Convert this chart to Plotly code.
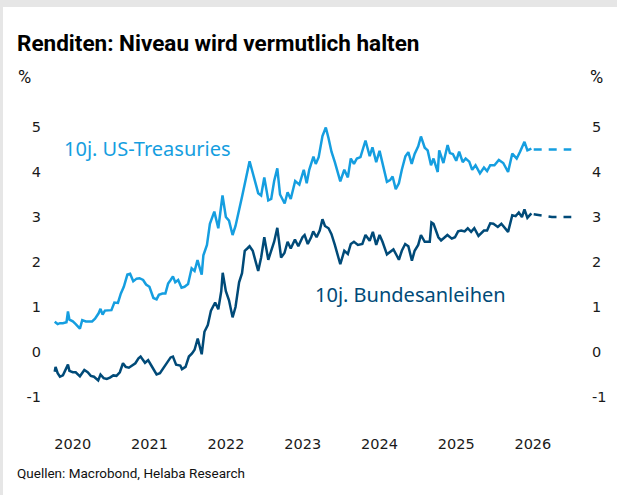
import plotly.graph_objects as go

# ---------------- data ----------------
us_dates = [
    "2020-04-06","2020-04-20","2020-05-01","2020-05-15","2020-06-01","2020-06-08","2020-06-15",
    "2020-07-01","2020-07-15","2020-08-04","2020-08-15","2020-09-01","2020-09-15","2020-10-01",
    "2020-10-15","2020-11-01","2020-11-10","2020-11-20","2020-12-01","2020-12-15","2021-01-01",
    "2021-01-15","2021-02-01","2021-02-15","2021-03-01","2021-03-18","2021-03-31","2021-04-15",
    "2021-05-01","2021-05-15","2021-06-01","2021-06-15","2021-07-01","2021-07-20","2021-08-04",
    "2021-08-15","2021-09-01","2021-09-15","2021-09-28","2021-10-10","2021-10-21","2021-11-01",
    "2021-11-15","2021-12-01","2021-12-15","2022-01-01","2022-01-18","2022-02-01","2022-02-15",
    "2022-03-07","2022-03-15","2022-04-01","2022-04-15","2022-05-06","2022-05-25","2022-06-14",
    "2022-06-30","2022-07-15","2022-08-01","2022-08-15","2022-09-01","2022-09-15","2022-10-01",
    "2022-10-21","2022-11-01","2022-11-15","2022-12-01","2022-12-15","2022-12-30","2023-01-18",
    "2023-02-01","2023-02-15","2023-03-02","2023-03-15","2023-04-06","2023-04-20","2023-05-05",
    "2023-05-26","2023-06-15","2023-07-06","2023-07-20","2023-08-01","2023-08-21","2023-09-01",
    "2023-09-15","2023-10-03","2023-10-19","2023-11-01","2023-11-15","2023-12-01","2023-12-27",
    "2024-01-15","2024-02-01","2024-02-15","2024-03-01","2024-03-15","2024-04-01","2024-04-25",
    "2024-05-15","2024-05-28","2024-06-15","2024-07-01","2024-07-15","2024-08-05","2024-08-20",
    "2024-09-01","2024-09-16","2024-10-01","2024-10-15","2024-11-01","2024-11-15","2024-12-01",
    "2024-12-15","2025-01-01","2025-01-14","2025-02-01","2025-02-15","2025-03-03","2025-03-15",
    "2025-04-04","2025-04-11","2025-05-01","2025-05-21","2025-06-01","2025-06-15","2025-07-01",
    "2025-07-15","2025-08-01","2025-08-15","2025-09-01","2025-09-15","2025-10-01","2025-10-22",
    "2025-11-10","2025-11-25","2025-12-10","2025-12-30","2026-01-20","2026-02-10","2026-03-05",
    "2026-03-25","2026-04-15","2026-05-01","2026-05-22","2026-06-05","2026-06-24",
]
us_values = [
    0.67,0.62,0.64,0.64,0.66,0.90,0.72,
    0.68,0.62,0.52,0.71,0.68,0.68,0.68,
    0.74,0.86,0.96,0.83,0.92,0.92,0.93,
    1.10,1.09,1.30,1.45,1.72,1.74,1.57,
    1.63,1.64,1.60,1.50,1.45,1.20,1.17,
    1.27,1.30,1.30,1.52,1.60,1.68,1.55,
    1.60,1.43,1.45,1.51,1.86,1.80,2.04,
    1.72,2.15,2.38,2.85,3.12,2.75,3.48,
    3.00,2.92,2.60,2.80,3.20,3.45,3.80,
    4.24,4.05,3.80,3.53,3.48,3.88,3.37,
    3.40,3.80,4.08,3.50,3.30,3.55,3.40,
    3.80,3.72,4.05,3.75,4.05,4.34,4.18,
    4.33,4.80,4.99,4.75,4.45,4.22,3.79,
    4.05,3.88,4.30,4.18,4.30,4.33,4.70,
    4.35,4.55,4.22,4.47,4.20,3.78,3.82,
    3.90,3.62,3.75,4.05,4.35,4.44,4.18,
    4.40,4.57,4.79,4.54,4.48,4.15,4.30,
    4.00,4.48,4.20,4.60,4.42,4.40,4.25,
    4.45,4.22,4.30,4.23,4.05,4.15,3.97,
    4.10,4.02,4.15,4.15,4.27,4.20,4.00,
    4.41,4.30,4.45,4.67,4.48,4.52,
]

de_dates = [
    "2020-04-06","2020-04-10","2020-04-20","2020-05-01","2020-05-15","2020-06-08","2020-06-15",
    "2020-07-01","2020-07-15","2020-08-04","2020-08-25","2020-09-10","2020-09-25","2020-10-10",
    "2020-10-30","2020-11-10","2020-11-25","2020-12-10","2020-12-25","2021-01-10","2021-01-25",
    "2021-02-10","2021-02-25","2021-03-10","2021-03-25","2021-04-10","2021-04-25","2021-05-10",
    "2021-05-20","2021-06-10","2021-06-25","2021-07-10","2021-07-25","2021-08-04","2021-08-20",
    "2021-09-10","2021-09-25","2021-10-10","2021-10-21","2021-11-05","2021-11-25","2021-12-03",
    "2021-12-20","2022-01-05","2022-01-20","2022-02-01","2022-02-16","2022-03-07","2022-03-20",
    "2022-04-05","2022-04-20","2022-05-10","2022-05-25","2022-06-08","2022-06-15","2022-06-30",
    "2022-07-15","2022-08-01","2022-08-15","2022-09-01","2022-09-15","2022-09-28","2022-10-10",
    "2022-10-21","2022-11-05","2022-11-20","2022-12-01","2022-12-15","2022-12-30","2023-01-18",
    "2023-02-01","2023-02-15","2023-03-02","2023-03-20","2023-04-05","2023-04-20","2023-05-05",
    "2023-05-25","2023-06-10","2023-06-30","2023-07-10","2023-07-25","2023-08-10","2023-08-20",
    "2023-09-05","2023-09-20","2023-10-03","2023-10-15","2023-11-01","2023-11-15","2023-12-01",
    "2023-12-27","2024-01-15","2024-02-01","2024-02-15","2024-03-01","2024-03-20","2024-04-10",
    "2024-04-25","2024-05-15","2024-05-30","2024-06-15","2024-07-01","2024-07-15","2024-08-05",
    "2024-08-20","2024-09-05","2024-09-20","2024-10-01","2024-10-15","2024-10-31","2024-11-15",
    "2024-12-02","2024-12-15","2025-01-01","2025-01-14","2025-02-01","2025-02-25","2025-03-05",
    "2025-03-15","2025-04-07","2025-04-20","2025-05-05","2025-05-20","2025-06-10","2025-06-25",
    "2025-07-10","2025-07-25","2025-08-10","2025-08-25","2025-09-10","2025-09-25","2025-10-15",
    "2025-11-10","2025-11-25","2025-12-10","2025-12-25","2026-01-15","2026-02-01","2026-02-15",
    "2026-03-05","2026-03-25","2026-04-10","2026-04-25","2026-05-10","2026-05-22","2026-06-05",
    "2026-06-24",
]
de_values = [
    -0.44,-0.33,-0.47,-0.55,-0.52,-0.28,-0.42,
    -0.45,-0.45,-0.54,-0.40,-0.45,-0.53,-0.55,
    -0.63,-0.50,-0.58,-0.60,-0.57,-0.52,-0.53,
    -0.45,-0.25,-0.33,-0.35,-0.30,-0.25,-0.14,
    -0.10,-0.24,-0.18,-0.30,-0.42,-0.50,-0.47,
    -0.33,-0.22,-0.12,-0.10,-0.28,-0.30,-0.38,
    -0.33,-0.10,-0.03,0.05,0.30,-0.05,0.45,
    0.60,0.92,1.10,0.95,1.35,1.76,1.35,
    1.15,0.77,1.00,1.55,1.75,2.25,2.30,
    2.35,2.25,2.00,1.80,2.10,2.55,2.05,
    2.25,2.45,2.76,2.10,2.20,2.45,2.30,
    2.50,2.35,2.55,2.60,2.40,2.55,2.68,
    2.55,2.70,2.95,2.80,2.75,2.62,2.38,
    1.95,2.25,2.18,2.40,2.45,2.38,2.40,
    2.60,2.47,2.67,2.38,2.60,2.45,2.17,
    2.23,2.28,2.15,2.05,2.25,2.40,2.35,
    2.03,2.25,2.38,2.60,2.45,2.45,2.88,
    2.85,2.55,2.48,2.55,2.60,2.52,2.55,
    2.68,2.70,2.68,2.75,2.67,2.75,2.58,
    2.70,2.70,2.86,2.85,2.78,2.85,2.78,
    2.67,3.04,3.02,3.10,3.00,3.17,2.98,
    3.08,
]

fc_dates = ["2026-07-05", "2026-09-30", "2026-12-31"]
us_forecast = [4.5, 4.5, 4.5]
de_forecast = [3.06, 3.0, 3.0]

year_tick_vals = ["2020-07-01","2021-07-01","2022-07-01","2023-07-01","2024-07-01","2025-07-01","2026-07-01"]
year_tick_text = ["2020","2021","2022","2023","2024","2025","2026"]
y_ticks = [-1, 0, 1, 2, 3, 4, 5]
y_tick_text = ["-1", "0", "1", "2", "3", "4", "5"]

title_text = "Renditen: Niveau wird vermutlich halten"
us_label = "10j. US-Treasuries"
de_label = "10j. Bundesanleihen"
source_text = "Quellen: Macrobond, Helaba Research"

# ---------------- styling ----------------
US_COL = "#159ee0"
DE_COL = "#004a78"
W, H = 617, 495
ML, MR, MT, MB = 48, 35, 110, 85
PW, PH = W - ML - MR, H - MT - MB
NARROW = "Liberation Sans Narrow, Roboto"


def px_x(px):
    return (px - ML) / PW


def px_y(py):
    return (H - MB - py) / PH


fig = go.Figure()
fig.add_trace(go.Scatter(x=us_dates, y=us_values, mode="lines",
                         line=dict(color=US_COL, width=2.5), hoverinfo="skip"))
fig.add_trace(go.Scatter(x=de_dates, y=de_values, mode="lines",
                         line=dict(color=DE_COL, width=2.5), hoverinfo="skip"))
fig.add_trace(go.Scatter(x=fc_dates, y=us_forecast, mode="lines", yaxis="y2",
                         line=dict(color=US_COL, width=2.5, dash="8px,7px"), hoverinfo="skip"))
fig.add_trace(go.Scatter(x=fc_dates, y=de_forecast, mode="lines", yaxis="y2",
                         line=dict(color=DE_COL, width=2.5, dash="8px,7px"), hoverinfo="skip"))

yrange = [-1.289, 5.378]
tickfont = dict(family="DejaVu Sans", size=14.5, color="#1a1a1a")

fig.update_layout(
    template="none",
    width=W, height=H,
    margin=dict(l=ML, r=MR, t=MT, b=MB, autoexpand=False),
    paper_bgcolor="white", plot_bgcolor="white",
    showlegend=False,
    xaxis=dict(range=["2020-03-05", "2027-02-20"], tickvals=year_tick_vals, ticktext=year_tick_text,
               showgrid=False, zeroline=False, showline=False, ticks="", automargin=False,
               tickfont=tickfont, ticklabelstandoff=23),
    yaxis=dict(range=yrange, tickvals=y_ticks, ticktext=y_tick_text, showgrid=False, zeroline=False,
               showline=False, ticks="", automargin=False, tickfont=tickfont, ticklabelstandoff=6),
    yaxis2=dict(range=yrange, tickvals=y_ticks, ticktext=y_tick_text, overlaying="y", side="right",
                showgrid=False, zeroline=False, showline=False, ticks="", automargin=False,
                tickfont=tickfont, ticklabelstandoff=9),
)

fig.add_annotation(text="<b>" + title_text + "</b>", xref="paper", yref="paper",
                   x=px_x(15), y=px_y(43), xanchor="left", yanchor="middle", showarrow=False,
                   font=dict(family=NARROW, size=22.5, color="#000000"))
fig.add_annotation(text="%", xref="paper", yref="paper", x=px_x(16), y=px_y(77),
                   xanchor="left", yanchor="middle", showarrow=False,
                   font=dict(family=NARROW, size=18, color="#111111"))
fig.add_annotation(text="%", xref="paper", yref="paper", x=px_x(588), y=px_y(77),
                   xanchor="left", yanchor="middle", showarrow=False,
                   font=dict(family=NARROW, size=18, color="#111111"))
fig.add_annotation(text=us_label, x="2020-05-10", y=4.53, xanchor="left", yanchor="middle",
                   showarrow=False, font=dict(family="Noto Sans", size=20, color=US_COL))
fig.add_annotation(text=de_label, x="2023-08-18", y=1.27, xanchor="left", yanchor="middle",
                   showarrow=False, font=dict(family="Noto Sans", size=20, color=DE_COL))
fig.add_annotation(text=source_text, xref="paper", yref="paper", x=px_x(15), y=px_y(473),
                   xanchor="left", yanchor="middle", showarrow=False,
                   font=dict(family=NARROW, size=13.5, color="#111111"))

# light grey frame of the original graphic
fig.add_shape(type="rect", xref="paper", yref="paper", x0=px_x(0), x1=px_x(W), y0=px_y(7), y1=px_y(0),
              fillcolor="#e6e6e6", line=dict(width=0), layer="above")
fig.add_shape(type="rect", xref="paper", yref="paper", x0=px_x(0), x1=px_x(3), y0=px_y(H), y1=px_y(0),
              fillcolor="#e6e6e6", line=dict(width=0), layer="above")

fig.write_html("out.html", config={"displayModeBar": False},
               post_script="document.body.style.margin='0';document.body.style.overflow='hidden';")
